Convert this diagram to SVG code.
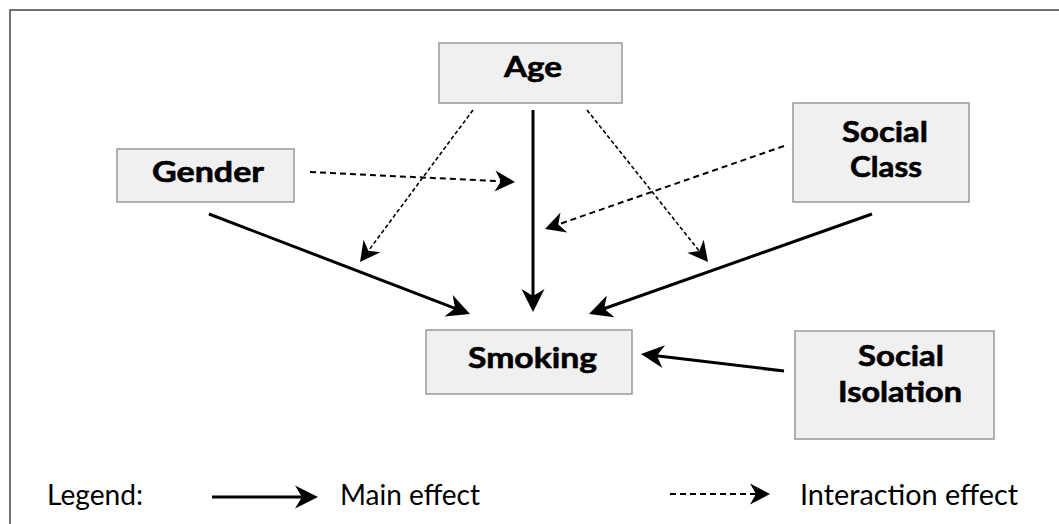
<svg xmlns="http://www.w3.org/2000/svg" width="1059" height="524" viewBox="0 0 1059 524">
<style>
.box{fill:#f0f0f0;stroke:#999;stroke-width:1.5}
.lbl{font-family:Lato,"Open Sans","Liberation Sans",sans-serif;font-weight:bold;font-size:29px;fill:#000;stroke:#000;stroke-width:0.6;text-anchor:middle}
.leg{font-family:Lato,"Open Sans","Liberation Sans",sans-serif;font-size:28px;fill:#000}
.main{fill:none;stroke:#000;stroke-width:3;marker-end:url(#ah)}
.inter{fill:none;stroke:#000;stroke-width:2;stroke-dasharray:6 4;marker-end:url(#ahd)}
.inter2{fill:none;stroke:#000;stroke-width:1.6;stroke-dasharray:4 2.5;marker-end:url(#ahd)}
</style>
<defs>
<marker id="ah" markerUnits="userSpaceOnUse" markerWidth="26" markerHeight="26" refX="14" refY="11.5" orient="auto" overflow="visible">
<path d="M0,0 L23,11.5 L0,23 L7,11.5 Z" fill="#000"/>
</marker>
<marker id="ahd" markerUnits="userSpaceOnUse" markerWidth="24" markerHeight="24" refX="12" refY="10.5" orient="auto" overflow="visible">
<path d="M0,0 L20,10.5 L0,21 L6,10.5 Z" fill="#000"/>
</marker>
</defs>
<rect width="1059" height="524" fill="#fff"/>
<path d="M10,524 V10 H1059" fill="none" stroke="#444" stroke-width="1.5"/>
<g id="connectors">
<path class="main" d="M209,214 L461.6,310.8"/>
<path class="main" d="M533,110 L533,303"/>
<path class="main" d="M872,214 L597.5,311"/>
<path class="main" d="M784,371 L649.9,355"/>
<path class="inter2" d="M473,110 L364.8,255.6"/>
<path class="inter2" d="M587,110 L703,255.7"/>
<path class="inter" d="M310,172 L507,181.6"/>
<path class="inter" d="M784,146 L552.6,226.4"/>
</g>
<g id="age"><rect class="box" x="439" y="43" width="183" height="60"/><text class="lbl" x="533" y="77" textLength="58" lengthAdjust="spacingAndGlyphs">Age</text></g>
<g id="gender"><rect class="box" x="117" y="149" width="177" height="53"/><text class="lbl" x="208" y="182" textLength="112" lengthAdjust="spacingAndGlyphs">Gender</text></g>
<g id="social-class"><rect class="box" x="793" y="103" width="176" height="99"/><text class="lbl" x="885" y="142" textLength="86" lengthAdjust="spacingAndGlyphs">Social</text><text class="lbl" x="886" y="177" textLength="72" lengthAdjust="spacingAndGlyphs">Class</text></g>
<g id="smoking"><rect class="box" x="426" y="330" width="206" height="64"/><text class="lbl" x="532.5" y="368" textLength="129" lengthAdjust="spacingAndGlyphs">Smoking</text></g>
<g id="social-isolation"><rect class="box" x="795" y="331" width="199" height="108"/><text class="lbl" x="901" y="366" textLength="86" lengthAdjust="spacingAndGlyphs">Social</text><text class="lbl" x="900" y="402" textLength="124" lengthAdjust="spacingAndGlyphs">Isolation</text></g>
<g id="legend">
<text class="leg" x="47" y="505" textLength="96" lengthAdjust="spacingAndGlyphs">Legend:</text>
<path class="main" d="M212,497 L309,497"/>
<text class="leg" x="340" y="505" textLength="140" lengthAdjust="spacingAndGlyphs">Main effect</text>
<path class="inter" d="M670,494 L762,494"/>
<text class="leg" x="800" y="505" textLength="218" lengthAdjust="spacingAndGlyphs">Interaction effect</text>
</g>
</svg>
